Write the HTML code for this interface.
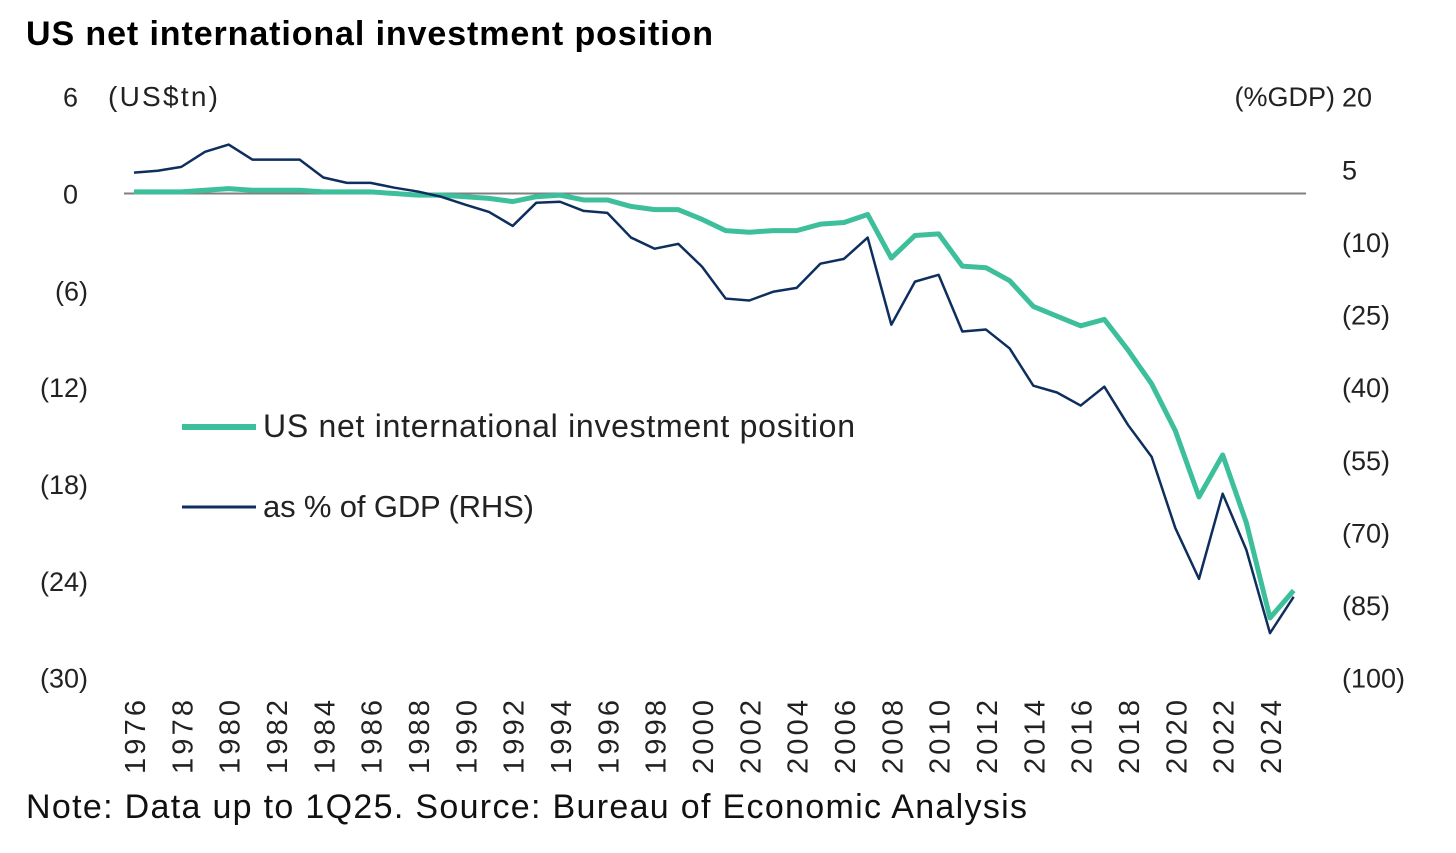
<!DOCTYPE html>
<html><head><meta charset="utf-8"><style>
body{margin:0;background:#fff;width:1456px;height:848px;overflow:hidden;font-family:"Liberation Sans",sans-serif}
</style></head><body>
<svg width="1456" height="848" id="c" font-family="Liberation Sans, sans-serif">
<text x="26" y="45" font-size="34" font-weight="bold" textLength="687">US net international investment position</text>
<text x="108" y="106" font-size="28" fill="#222" textLength="110">(US$tn)</text>
<text x="1335" y="106" font-size="27" fill="#222" text-anchor="end">(%GDP)</text>
<line x1="124" y1="193.5" x2="1306" y2="193.5" stroke="#808080" stroke-width="2"/>
<g id="axes"></g>
<g id="series"></g>
<line x1="182" y1="427" x2="256" y2="427" stroke="#3dbf9c" stroke-width="6"/>
<text x="263" y="437" font-size="32" fill="#222" textLength="592">US net international investment position</text>
<line x1="182" y1="507" x2="256" y2="507" stroke="#0e2f5e" stroke-width="3"/>
<text x="263" y="517" font-size="31" fill="#222" textLength="271">as % of GDP (RHS)</text>
<text x="26" y="818" font-size="34" fill="#111" textLength="1001">Note: Data up to 1Q25. Source: Bureau of Economic Analysis</text>
</svg>
<script>
const years=[1976,1977,1978,1979,1980,1981,1982,1983,1984,1985,1986,1987,1988,1989,1990,1991,1992,1993,1994,1995,1996,1997,1998,1999,2000,2001,2002,2003,2004,2005,2006,2007,2008,2009,2010,2011,2012,2013,2014,2015,2016,2017,2018,2019,2020,2021,2022,2023,2024,2025];
const usdTn=[0.1,0.1,0.1,0.2,0.3,0.2,0.2,0.2,0.1,0.1,0.1,0,-0.1,-0.1,-0.2,-0.3,-0.5,-0.2,-0.1,-0.4,-0.4,-0.8,-1.0,-1.0,-1.6,-2.3,-2.4,-2.3,-2.3,-1.9,-1.8,-1.3,-4.0,-2.6,-2.5,-4.5,-4.6,-5.4,-7.0,-7.6,-8.2,-7.8,-9.7,-11.8,-14.7,-18.8,-16.2,-20.4,-26.3,-24.6];
const pctGdp=[4.3,4.7,5.5,8.6,10.1,7,7,7,3.3,2.2,2.2,1.2,0.4,-0.7,-2.3,-3.8,-6.7,-1.9,-1.7,-3.6,-4,-9.1,-11.4,-10.4,-15.1,-21.7,-22.1,-20.3,-19.5,-14.5,-13.5,-9.1,-27.1,-18.2,-16.8,-28.5,-28.1,-32,-39.7,-41.1,-43.8,-39.9,-47.8,-54.4,-69.1,-79.6,-62,-73.6,-90.8,-83.3];
const leftTicks=[6,0,-6,-12,-18,-24,-30];
const rightTicks=[20,5,-10,-25,-40,-55,-70,-85,-100];
const yearLabels=[1976,1978,1980,1982,1984,1986,1988,1990,1992,1994,1996,1998,2000,2002,2004,2006,2008,2010,2012,2014,2016,2018,2020,2022,2024];
const NS="http://www.w3.org/2000/svg";
const x=y=>134+(y-1976)*(1136/48);
const yL=v=>193.5-v*(581/36);
const yR=v=>193.5-v*(581/120);
const fmt=v=>v<0?"("+(-v)+")":String(v);
const ax=document.getElementById('axes'),se=document.getElementById('series');
function t(txt,a){const e=document.createElementNS(NS,'text');for(const k in a)e.setAttribute(k,a[k]);e.textContent=txt;ax.appendChild(e);return e;}
leftTicks.forEach(v=>{const e=t(fmt(v),{x:v<0?88:78,y:yL(v)+10,'font-size':27,fill:'#222','text-anchor':'end'});

});
rightTicks.forEach(v=>{const e=t(fmt(v),{x:1342,y:yR(v)+10,'font-size':27,fill:'#222'});

});
yearLabels.forEach(yr=>{const xx=x(yr)+11;const e=t(String(yr),{x:0,y:0,'font-size':29,fill:'#222','text-anchor':'end',textLength:74,transform:`translate(${xx},700) rotate(-90)`});

});
function line(vals,fy,col,w,name){const p=document.createElementNS(NS,'polyline');
p.setAttribute('points',vals.map((v,i)=>x(years[i])+','+fy(v)).join(' '));
p.setAttribute('fill','none');p.setAttribute('stroke',col);p.setAttribute('stroke-width',w);p.setAttribute('stroke-linejoin','round');


se.appendChild(p);}
line(usdTn,yL,'#3dbf9c',5,'usd-line');
line(pctGdp,yR,'#0e2f5e',2.5,'gdp-line');
</script>
</body></html>
